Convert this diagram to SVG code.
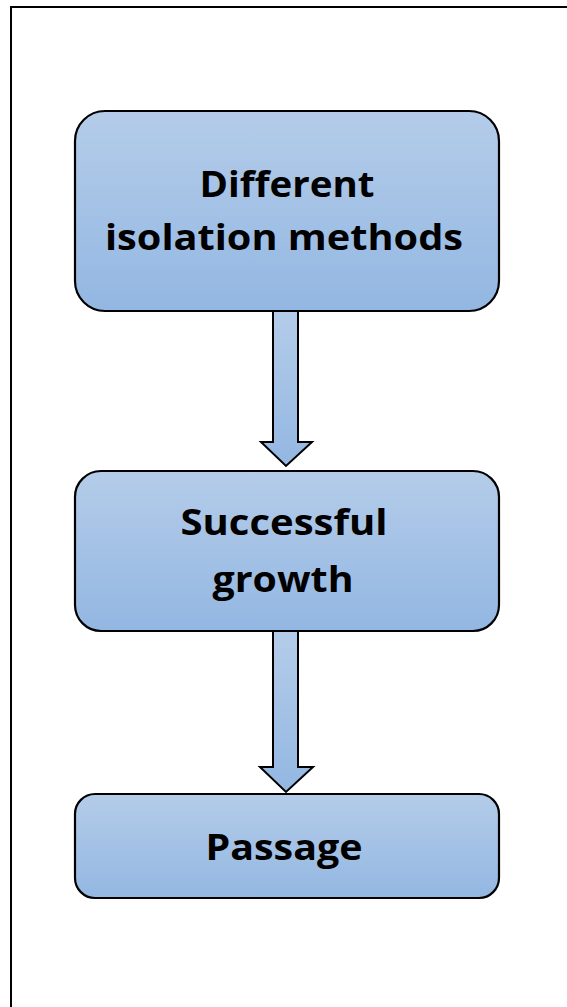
<svg xmlns="http://www.w3.org/2000/svg" width="567" height="1007" viewBox="0 0 567 1007">
<defs>
<linearGradient id="g" x1="0" y1="0" x2="0" y2="1">
<stop offset="0" stop-color="#b4cce9"/>
<stop offset="1" stop-color="#93b7e2"/>
</linearGradient>
<style>
.box{fill:url(#g);stroke:#000;stroke-width:2.2}
.arr{fill:url(#g);stroke:#000;stroke-width:2}
.t{font-family:"Open Sans","DejaVu Sans",sans-serif;font-weight:bold;font-size:35px;fill:#000;text-anchor:middle}
</style>
</defs>
<rect x="11" y="7" width="600" height="1050" fill="#fff" stroke="#000" stroke-width="2"/>
<g id="connectors">
<path class="arr" d="M273,311 L298,311 L298,442 L312,442 L286,466 L261,442 L273,442 Z"/>
<path class="arr" d="M273,631 L298,631 L298,767 L313,767 L286,792 L260,767 L273,767 Z"/>
</g>
<g id="n1">
<rect class="box" x="75" y="111" width="424" height="200" rx="30"/>
<text class="t" x="287" y="197" textLength="175" lengthAdjust="spacingAndGlyphs">Different</text>
<text class="t" x="284" y="250" textLength="358" lengthAdjust="spacingAndGlyphs">isolation methods</text>
</g>
<g id="n2">
<rect class="box" x="75" y="471" width="424" height="160" rx="26"/>
<text class="t" x="284" y="535" textLength="207" lengthAdjust="spacingAndGlyphs">Successful</text>
<text class="t" x="283" y="592" textLength="141" lengthAdjust="spacingAndGlyphs">growth</text>
</g>
<g id="n3">
<rect class="box" x="75" y="794" width="424" height="104" rx="20"/>
<text class="t" x="284" y="860" textLength="157" lengthAdjust="spacingAndGlyphs">Passage</text>
</g>
</svg>
